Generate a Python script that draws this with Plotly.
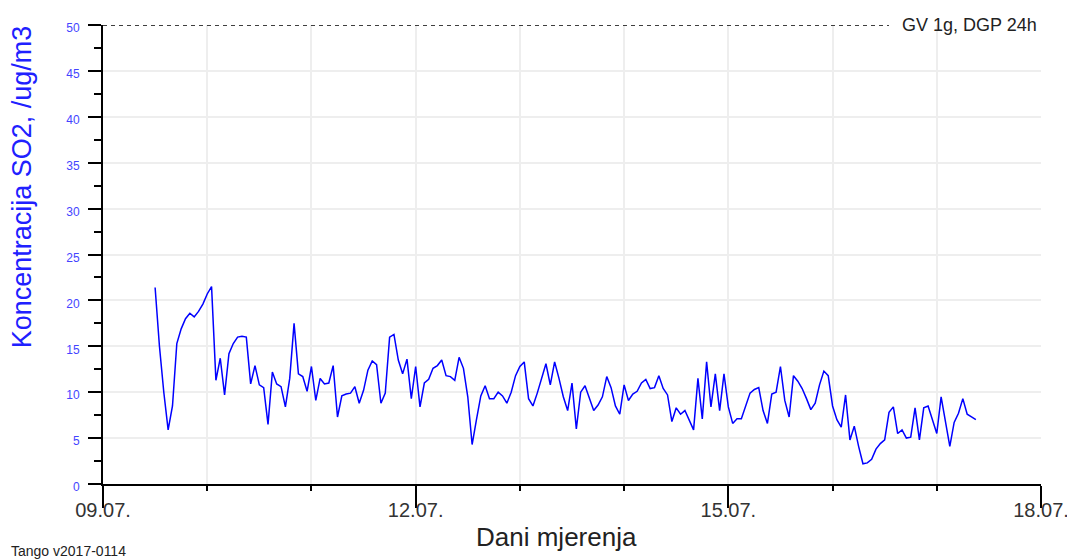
import pandas as pd
import plotly.graph_objs as go

# hourly SO2 concentration, ug/m3, starting 09.07.2017 12:00
start = '2017-07-09 12:00'
so2 = [
    21.4, 15.0, 10.0, 5.9, 8.5, 15.3, 16.9, 18.0, 18.6, 18.2, 18.8, 19.6, 20.7, 21.5,
    11.3, 13.7, 9.7, 14.2, 15.3, 16.0, 16.1, 16.0, 10.9, 12.9, 10.8,
    10.5, 6.5, 12.2, 10.9, 10.6, 8.4, 11.5, 17.5, 12.0, 11.7, 10.1, 12.8,
    9.1, 11.5, 10.9, 11.0, 12.9, 7.3, 9.6, 9.8, 9.9, 10.6, 8.8, 10.2, 12.4,
    13.4, 13.0, 8.8, 9.9, 16.0, 16.3, 13.5, 12.0, 13.6, 9.3, 12.8, 8.4,
    11.0, 11.4, 12.6, 12.9, 13.5, 11.8, 11.7, 11.3, 13.8, 12.6, 9.5, 4.3, 7.0, 9.6,
    10.7, 9.3, 9.3, 10.0, 9.6, 8.8, 10.0, 11.8, 12.8, 13.3, 9.3, 8.5,
    9.9, 11.5, 13.1, 10.8, 13.3, 11.5, 9.5, 8.0, 11.0, 6.0, 10.0, 10.7, 9.3,
    8.0, 8.6, 9.5, 11.7, 10.5, 8.5, 7.6, 10.8, 9.1, 9.8, 10.1, 11.0,
    11.4, 10.4, 10.5, 11.8, 10.4, 9.7, 6.8, 8.3, 7.6, 8.0, 7.0,
    5.9, 11.5, 7.1, 13.3, 8.4, 12.0, 8.0, 12.0, 8.4, 6.6, 7.1, 7.1,
    8.5, 9.9, 10.3, 10.5, 8.0, 6.6, 9.8, 10.0, 12.8, 9.1, 7.3, 11.8, 11.2,
    10.4, 9.3, 8.1, 8.8, 10.8, 12.3, 11.8, 8.5, 7.0, 6.2, 9.7, 4.8,
    6.3, 4.1, 2.2, 2.3, 2.7, 3.8, 4.4, 4.8, 7.8, 8.4, 5.5,
    5.9, 5.0, 5.1, 8.3, 4.8, 8.3, 8.5, 7.0, 5.5, 9.5, 7.0, 4.1,
    6.7, 7.7, 9.3, 7.6, 7.3, 7.0,
]
times = pd.date_range(start, periods=len(so2), freq='h')

# limit value line
limit_value = 50
limit_label = 'GV 1g, DGP 24h'
limit_x = ['2017-07-09 00:00', '2017-07-16 13:00']

x_range = ['2017-07-09', '2017-07-18']
y_range = [0, 50]

fig = go.Figure()
fig.add_trace(go.Scatter(
    x=limit_x, y=[limit_value, limit_value],
    mode='lines', line=dict(color='black', width=1.5, dash='4px,4px'),
    hoverinfo='skip', showlegend=False
))
fig.add_trace(go.Scatter(
    x=times, y=so2,
    mode='lines', line=dict(color='#0000ff', width=1.5),
    showlegend=False
))

fig.add_annotation(
    x=1.0, y=limit_value, xref='paper', yref='y',
    text=limit_label, showarrow=False,
    xanchor='right', yanchor='middle', xshift=-2,
    font=dict(size=18, color='#222222', family='Liberation Sans')
)
fig.add_annotation(
    x=-0.086, y=0.647, xref='paper', yref='paper',
    text='Koncentracija SO2, /ug/m3', showarrow=False, textangle=-90,
    xanchor='center', yanchor='middle',
    font=dict(size=27, color='#2020ff', family='Liberation Sans')
)
fig.add_annotation(
    x=0.483, y=-0.1155, xref='paper', yref='paper',
    text='Dani mjerenja', showarrow=False,
    xanchor='center', yanchor='middle',
    font=dict(size=26, color='#222222', family='Liberation Sans')
)
fig.add_annotation(
    x=-0.1, y=-0.145, xref='paper', yref='paper',
    text='Tango v2017-0114', showarrow=False,
    xanchor='left', yanchor='middle',
    font=dict(size=14, color='#222222', family='Liberation Sans')
)

# the page adds an 8px body margin, so the figure is 8px smaller
fig.update_layout(
    width=1067, height=552,
    margin=dict(l=95, r=34, t=17, b=76),
    paper_bgcolor='white', plot_bgcolor='white',
    font=dict(family='Liberation Sans'),
    xaxis=dict(
        type='date', range=x_range, automargin=False,
        tick0='2017-07-09', dtick=3 * 86400000, tickformat='%d.%m.',
        ticks='outside', ticklen=22, tickwidth=2, tickcolor='black',
        ticklabelstandoff=-15,
        tickfont=dict(size=20, color='#333333'),
        showline=True, linecolor='black', linewidth=2,
        showgrid=True, gridcolor='#eeeeee', gridwidth=1.5,
        minor=dict(dtick=86400000, tick0='2017-07-09', ticks='outside', ticklen=5,
                   tickwidth=2, tickcolor='black', showgrid=True,
                   gridcolor='#eeeeee', gridwidth=1.5),
        zeroline=False,
    ),
    yaxis=dict(
        range=y_range, dtick=5, automargin=False,
        ticks='outside', ticklen=13, tickwidth=2, tickcolor='black',
        tickfont=dict(size=12, color='#4444ff'),
        ticklabelstandoff=6, ticklabelshift=3,
        showline=True, linecolor='black', linewidth=2,
        showgrid=True, gridcolor='#eeeeee', gridwidth=1.5,
        minor=dict(dtick=2.5, ticks='outside', ticklen=7, tickwidth=2,
                   tickcolor='black', showgrid=False),
        zeroline=False,
    ),
)

fig.write_html("out.html")
